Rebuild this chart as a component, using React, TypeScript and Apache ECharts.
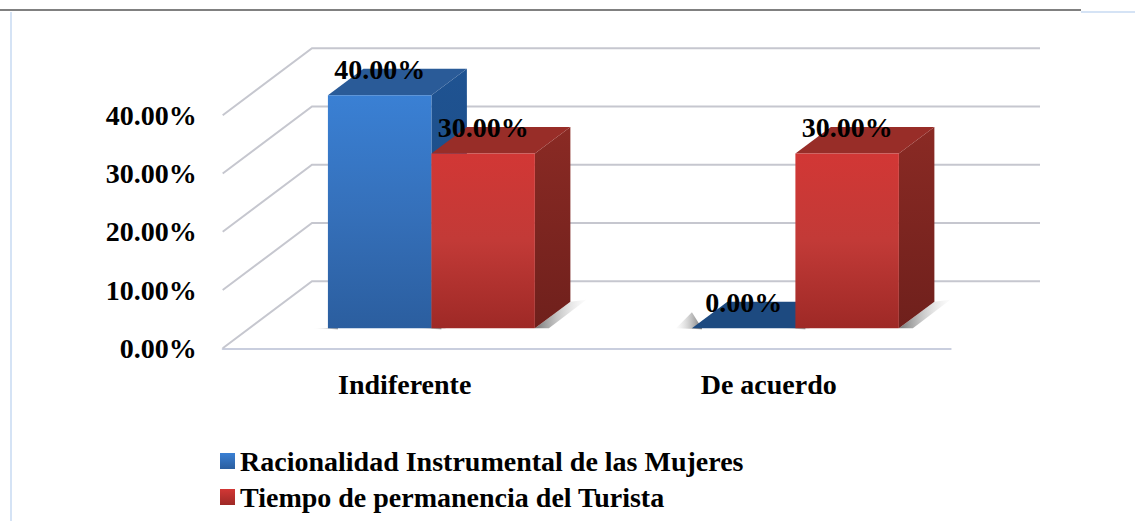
import React, { useEffect, useRef } from "react";
import * as echarts from "echarts";

const categories = ["Indiferente", "De acuerdo"];
const racionalidad = [40, 0];
const tiempo = [30, 30];
const yTicks = [0, 10, 20, 30, 40];
const seriesNames = ["Racionalidad Instrumental de las Mujeres", "Tiempo de permanencia del Turista"];

const FONT = '"Liberation Serif", "Times New Roman", serif';
const WALL_DX = 89.3;
const WALL_DY = 67;
const FLOOR_DX = 26.7; // front plane of the bars inside the floor
const FLOOR_DY = 20;
const BAR_DX = 35.5;
const BAR_DY = 26.6;
const vGrad = (a: string, b: string, c?: string) =>
  new echarts.graphic.LinearGradient(0, 0, 0, 1, c
    ? [{ offset: 0, color: a }, { offset: 0.5, color: b }, { offset: 1, color: c }]
    : [{ offset: 0, color: a }, { offset: 1, color: b }]);

const palettes = [
  { front: ["#3a80d4", "#3570ba", "#2b5e9f"], top: "#2a5b98", zeroTop: "#1d4a80", side: ["#1f5392", "#1b4a80"] },
  { front: ["#d23735", "#c23a37", "#9e2926"], top: "#982d28", zeroTop: "#982d28", side: ["#8a2a24", "#6f201c"] },
];

const gridItem = (params: any, api: any) => {
  const v = api.value(0);
  const cs = params.coordSys;
  const y = api.coord([0, v])[1];
  return {
    type: "polyline",
    shape: { points: [[cs.x, y], [cs.x + WALL_DX, y - WALL_DY], [cs.x + cs.width + WALL_DX, y - WALL_DY]] },
    style: { stroke: "#c6c7cf", lineWidth: 2, fill: "none" },
    silent: true,
  };
};

const barItem = (sIdx: number) => (params: any, api: any) => {
  const cat = api.value(0);
  const val = api.value(1);
  const band = api.size([1, 0])[0];
  const bw = band * 0.2843;
  const cx = api.coord([cat, 0])[0] + FLOOR_DX;
  const x0 = sIdx === 0 ? cx - bw : cx;
  const x1 = x0 + bw;
  const yb = api.coord([cat, 0])[1] - FLOOR_DY;
  const yt = api.coord([cat, val])[1] - FLOOR_DY;
  const p = palettes[sIdx];
  const children: any[] = [];
  // floor shadow
  children.push({
    type: "polygon",
    shape: { points: [[x1, yb], [x1 + BAR_DX, yb - BAR_DY], [x1 + BAR_DX + 16, yb - BAR_DY - 2], [x1 + 14, yb]] },
    style: {
      fill: new echarts.graphic.LinearGradient(0, 0, 1, 0, [
        { offset: 0, color: "rgba(70,70,70,0.75)" },
        { offset: 1, color: "rgba(200,200,200,0.05)" },
      ]),
    },
  });
  children.push({
    type: "polygon",
    shape: { points: [[x0 - 16, yb], [x0, yb - (val === 0 ? 16 : 0)], [x0 + 10, yb], [x0 + 10, yb + 1]] },
    style: {
      fill: new echarts.graphic.LinearGradient(0, 0, 1, 0, [
        { offset: 0, color: "rgba(200,200,200,0.05)" },
        { offset: 1, color: "rgba(70,70,70,0.75)" },
      ]),
    },
  });
  if (val > 0) {
    children.push({
      type: "polygon",
      shape: { points: [[x1, yt], [x1 + BAR_DX, yt - BAR_DY], [x1 + BAR_DX, yb - BAR_DY], [x1, yb]] },
      style: { fill: vGrad(p.side[0], p.side[1]) },
    });
  }
  children.push({
    type: "polygon",
    shape: { points: [[x0, yt], [x0 + BAR_DX, yt - BAR_DY], [x1 + BAR_DX, yt - BAR_DY], [x1, yt]] },
    style: { fill: val > 0 ? p.top : p.zeroTop },
  });
  if (val > 0) {
    children.push({
      type: "rect",
      shape: { x: x0, y: yt, width: bw, height: yb - yt },
      style: { fill: vGrad(p.front[0], p.front[1], p.front[2]) },
    });
  }
  children.push({
    type: "text",
    x: x0 + bw / 2,
    y: yt - 26,
    z2: 10,
    style: {
      text: `${val.toFixed(2)}%`,
      fill: "#000",
      font: `bold 28px ${FONT}`,
      align: "center",
      verticalAlign: "middle",
    },
  });
  return { type: "group", children };
};

export default function App() {
  const ref = useRef<HTMLDivElement>(null);
  useEffect(() => {
    const chart = echarts.init(ref.current!, undefined, { renderer: "svg" });
    chart.setOption({
      animation: false,
      backgroundColor: "#ffffff",
      grid: { left: 222.7, top: 115.3, width: 728, height: 233 },
      xAxis: {
        type: "category",
        data: categories,
        axisLine: { show: true, lineStyle: { color: "#c9cede", width: 2 } },
        axisTick: { show: false },
        axisLabel: { color: "#000", fontFamily: FONT, fontWeight: "bold", fontSize: 28, margin: 22 },
      },
      yAxis: {
        type: "value",
        min: 0,
        max: 40,
        interval: 10,
        axisLine: { show: false },
        axisTick: { show: false },
        splitLine: { show: false },
        axisLabel: {
          color: "#000",
          fontFamily: FONT,
          fontWeight: "bold",
          fontSize: 28,
          margin: 26,
          formatter: (v: number) => `${v.toFixed(2)}%`,
        },
      },
      legend: {
        orient: "vertical",
        left: 215,
        top: 442,
        itemWidth: 15,
        itemHeight: 16,
        itemGap: 8,
        icon: "rect",
        data: seriesNames,
        textStyle: { color: "#000", fontFamily: FONT, fontWeight: "bold", fontSize: 28, padding: [0, 0, 0, 0] },
      },
      series: [
        { type: "custom", name: "grid", renderItem: gridItem, data: yTicks.map((v) => [v]), encode: { y: 0 }, silent: true, z: 1 },
        {
          type: "custom",
          name: seriesNames[0],
          renderItem: barItem(0),
          data: racionalidad.map((v, i) => [i, v]),
          encode: { x: 0, y: 1 },
          itemStyle: { color: vGrad("#3a80d4", "#2b5e9f") },
          z: 2,
        },
        {
          type: "custom",
          name: seriesNames[1],
          renderItem: barItem(1),
          data: tiempo.map((v, i) => [i, v]),
          encode: { x: 0, y: 1 },
          itemStyle: { color: vGrad("#d23735", "#9e2926") },
          z: 3,
        },
      ],
      graphic: [
        { type: "rect", shape: { x: 1081, y: 11, width: 54, height: 2 }, style: { fill: "#d5e3f5" } },
        { type: "rect", shape: { x: 10, y: 12, width: 2, height: 509 }, style: { fill: "#d5e3f5" } },
        { type: "rect", shape: { x: 0, y: 9, width: 1081, height: 2 }, style: { fill: "#808080" } },
      ],
    });
    return () => chart.dispose();
  }, []);
  return <div ref={ref} style={{ position: "absolute", left: 0, top: 0, width: 1135, height: 521 }} />;
}
